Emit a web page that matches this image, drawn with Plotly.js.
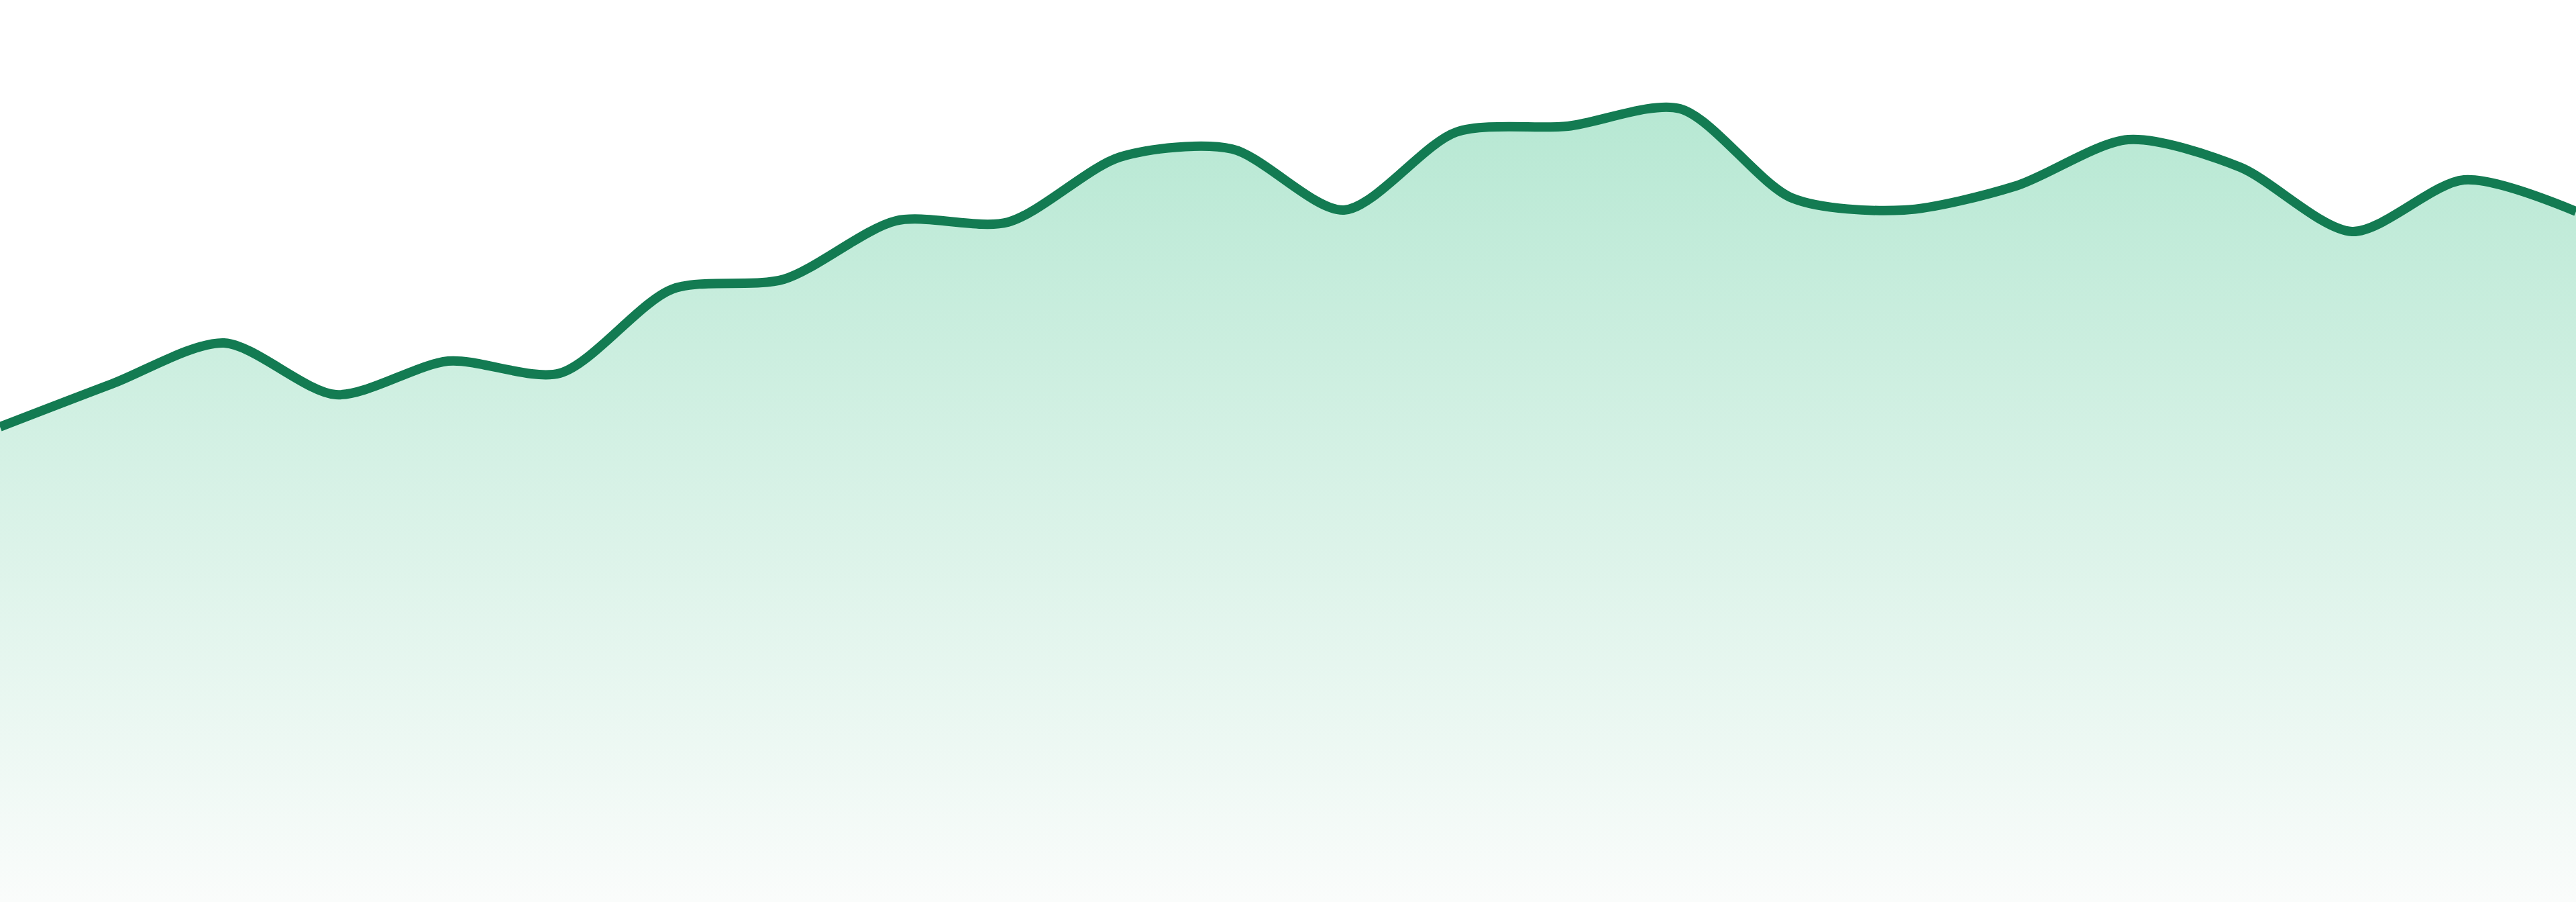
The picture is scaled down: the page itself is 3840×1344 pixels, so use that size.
<!DOCTYPE html>
<html>
<head>
<meta charset="utf-8">
<script src="https://cdn.plot.ly/plotly-3.0.1.min.js"></script>
<style>
  html, body { margin: 0; padding: 0; background: #ffffff; }
  #chart { width: 3840px; height: 1344px; }
</style>
</head>
<body>
<div id="chart"></div>
<script>
// Index positions (evenly spaced) and series values
var categories = [0,1,2,3,4,5,6,7,8,9,10,11,12,13,14,15,16,17,18,19,20,21,22,23];
var values = [70.8, 77.2, 83.3, 75.6, 80.6, 78.8, 91.3, 92.8, 101.5, 101.3, 111.0, 112.2,
              103.1, 114.7, 115.6, 118.2, 104.9, 103.1, 106.7, 113.6, 109.5, 99.9, 107.6, 102.9];
var yMax = 134.4;

var trace = {
  x: categories,
  y: values,
  type: 'scatter',
  mode: 'lines',
  line: { color: '#137b52', width: 14, shape: 'spline', smoothing: 0.8 },
  fill: 'tozeroy',
  fillgradient: {
    type: 'vertical',
    start: 0,
    stop: Math.max.apply(null, values),
    colorscale: [[0, 'rgb(250,252,251)'], [1, 'rgb(183,232,211)']]
  },
  hoverinfo: 'skip'
};

var layout = {
  width: 3840,
  height: 1344,
  margin: { l: 0, r: 0, t: 0, b: 0, pad: 0 },
  paper_bgcolor: '#ffffff',
  plot_bgcolor: '#ffffff',
  showlegend: false,
  xaxis: { range: [0, 23], visible: false, showgrid: false, zeroline: false, fixedrange: true },
  yaxis: { range: [0, yMax], visible: false, showgrid: false, zeroline: false, fixedrange: true }
};

Plotly.newPlot('chart', [trace], layout, { staticPlot: true, displayModeBar: false });
</script>
</body>
</html>
